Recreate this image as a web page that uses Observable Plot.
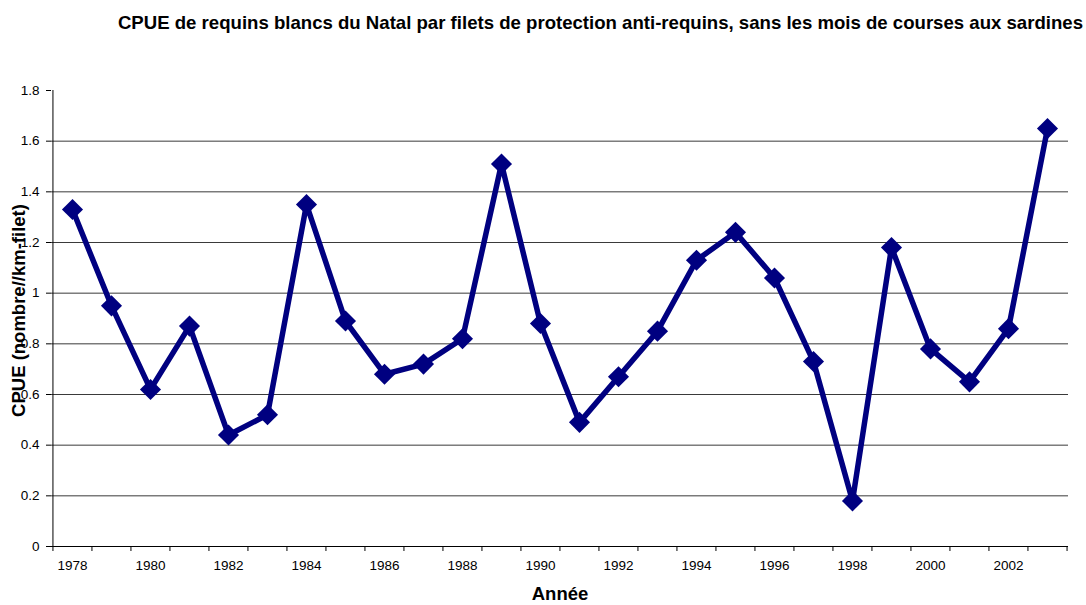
<!DOCTYPE html>
<html>
<head>
<meta charset="utf-8">
<script src="https://cdn.jsdelivr.net/npm/d3@7"></script>
<script src="https://cdn.jsdelivr.net/npm/@observablehq/plot@0.6"></script>
<style>
  html, body { margin: 0; padding: 0; background: #fff; }
  #wrap { position: relative; width: 1086px; height: 605px; overflow: hidden; font-family: "Liberation Sans", Arial, sans-serif; }
  #title { position: absolute; top: 12px; right: 3px; font-weight: bold; font-size: 18.6px; color: #000; white-space: nowrap; }
  #chart { position: absolute; top: 60px; left: 0; }
</style>
</head>
<body>
<div id="wrap">
  <div id="title">CPUE de requins blancs du Natal par filets de protection anti-requins, sans les mois de courses aux sardines</div>
  <div id="chart"></div>
</div>
<script>
const years = [1978, 1979, 1980, 1981, 1982, 1983, 1984, 1985, 1986, 1987, 1988, 1989, 1990,
               1991, 1992, 1993, 1994, 1995, 1996, 1997, 1998, 1999, 2000, 2001, 2002, 2003];
const cpue = [1.33, 0.95, 0.62, 0.87, 0.44, 0.52, 1.35, 0.89, 0.68, 0.72, 0.82, 1.51, 0.88,
              0.49, 0.67, 0.85, 1.13, 1.24, 1.06, 0.73, 0.18, 1.18, 0.78, 0.65, 0.86, 1.65];
const xTickLabels = [1978, 1980, 1982, 1984, 1986, 1988, 1990, 1992, 1994, 1996, 1998, 2000, 2002];
const yTicks = [0, 0.2, 0.4, 0.6, 0.8, 1, 1.2, 1.4, 1.6, 1.8];
const yGrid = [0.2, 0.4, 0.6, 0.8, 1, 1.2, 1.4, 1.6];
const yTitle = "CPUE (nombre//km-filet)";
const xTitle = "Année";

const data = years.map((yr, i) => ({year: yr, value: cpue[i]}));

const W = 1086, H = 545, mt = 30, mb = 59, ml = 51, mr = 18;
const step = (W - ml - mr) / years.length;
const yMax = 1.8;
const tickLen = 5 * yMax / (H - mt - mb);
const navy = "#000080";

const chart = Plot.plot({
  width: W,
  height: H,
  marginTop: mt,
  marginBottom: mb,
  marginLeft: ml,
  marginRight: mr,
  style: {fontFamily: "'Liberation Sans', Arial, sans-serif", fontSize: "13px", color: "#000", background: "#fff"},
  x: {type: "point", domain: years, padding: 0.5, axis: null},
  y: {domain: [0, yMax], axis: null},
  marks: [
    Plot.ruleY(yGrid, {stroke: "#3a3a3a", strokeWidth: 1}),
    Plot.ruleY([0], {stroke: "#000", strokeWidth: 1}),
    Plot.ruleX([years[0]], {y1: 0, y2: yMax, dx: -step / 2, stroke: "#000"}),
    Plot.ruleX(years, {y1: 0, y2: -tickLen, dx: -step / 2, stroke: "#000"}),
    Plot.ruleX([years[years.length - 1]], {y1: 0, y2: -tickLen, dx: step / 2, stroke: "#000"}),
    Plot.axisY(yTicks, {anchor: "left", tickSize: 5, tickFormat: () => "", label: null}),
    Plot.text(yTicks, {y: d => d, text: d => String(d), frameAnchor: "left", textAnchor: "end", dx: -12, fontSize: 13.5, fill: "#000"}),
    Plot.text(xTickLabels, {x: d => d, text: d => String(d), frameAnchor: "bottom", dy: 23, fontSize: 13.5, fill: "#000"}),
    Plot.line(data, {x: "year", y: "value", stroke: navy, strokeWidth: 5.5, strokeLinejoin: "round"}),
    Plot.dot(data, {x: "year", y: "value", symbol: "diamond2", r: 9.5, fill: navy, stroke: "none"}),
    Plot.text([yTitle], {text: d => d, frameAnchor: "left", textAnchor: "middle", rotate: -90, dx: -32, dy: -8, fontWeight: "bold", fontSize: 18.5}),
    Plot.text([xTitle], {text: d => d, frameAnchor: "bottom", dy: 53, fontWeight: "bold", fontSize: 18.5})
  ]
});
document.getElementById("chart").appendChild(chart);
</script>
</body>
</html>
